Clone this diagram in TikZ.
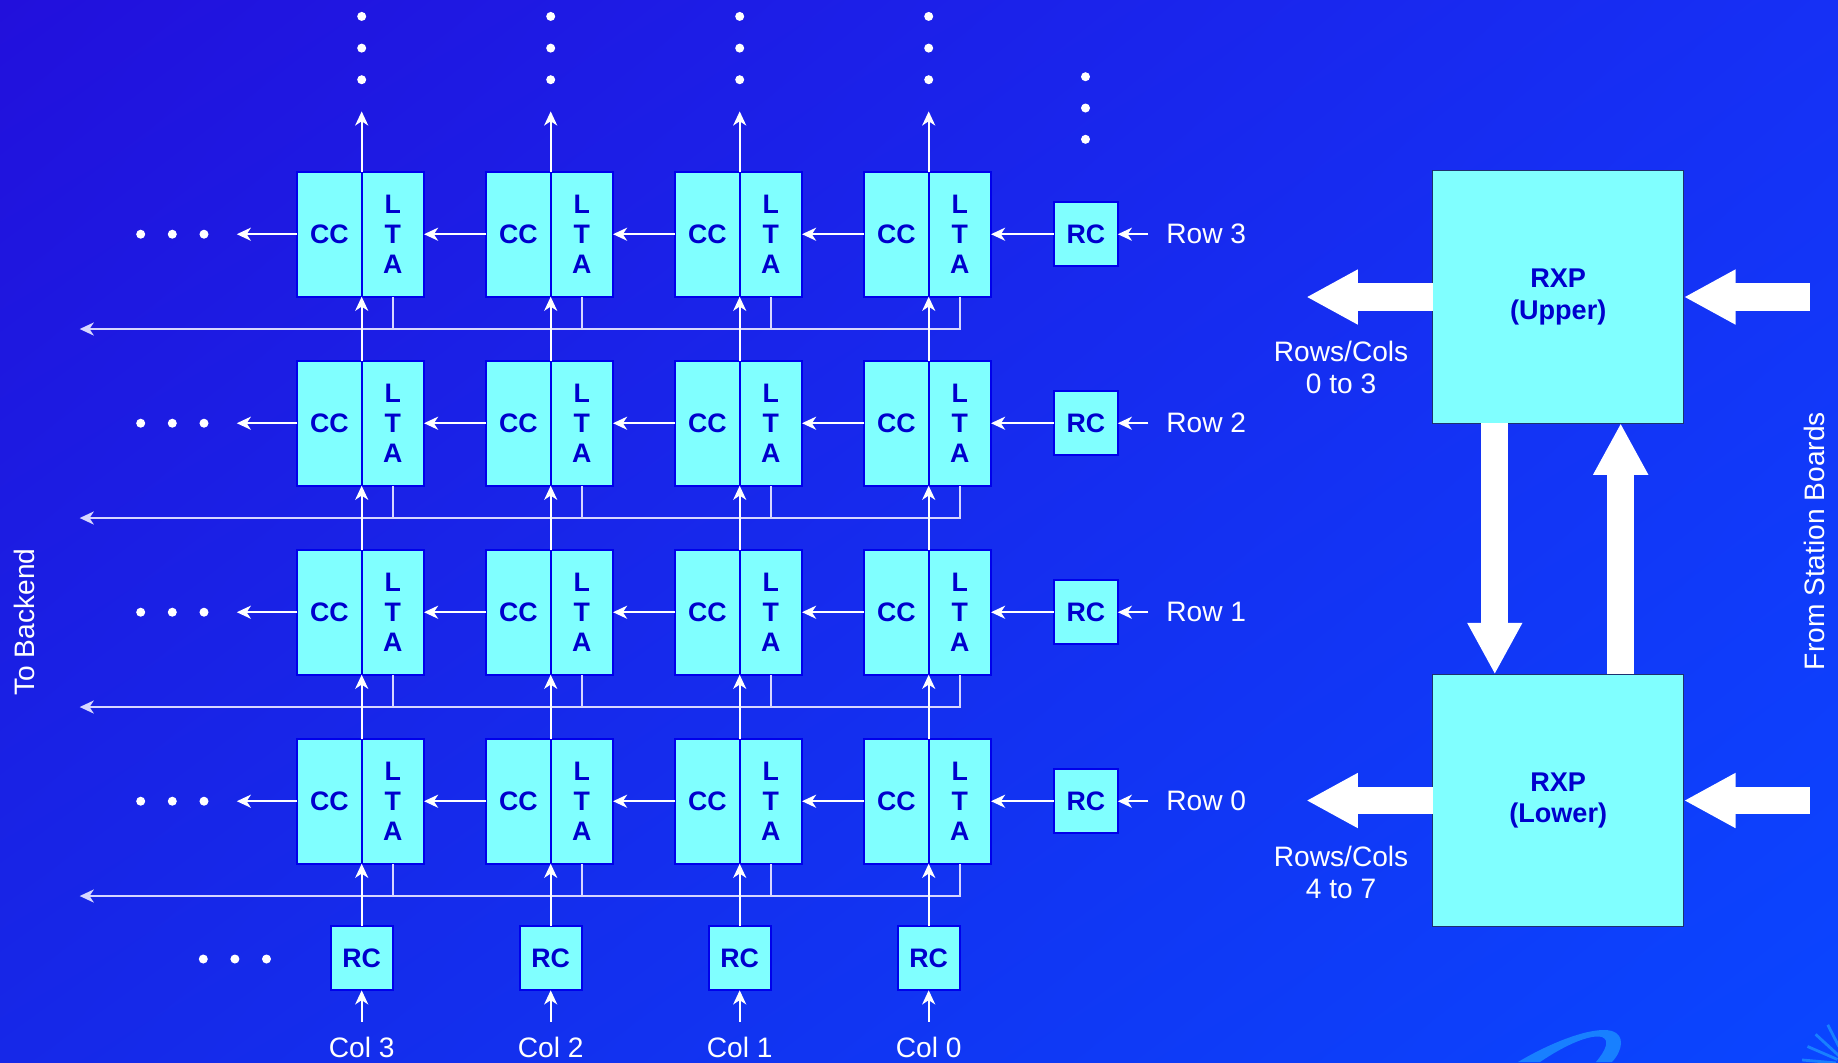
\documentclass[tikz,border=0pt]{standalone}
\usepackage{fontspec}
\setmainfont{Liberation Sans}
\usetikzlibrary{arrows.meta,calc,shadings}
\definecolor{cellfill}{RGB}{128,255,255}
\definecolor{cellline}{RGB}{0,0,235}
\definecolor{celltext}{RGB}{0,0,205}
\definecolor{busline}{RGB}{215,215,255}
\definecolor{bgA}{RGB}{34,16,220}
\definecolor{bgB}{RGB}{22,48,245}
\definecolor{bgC}{RGB}{22,40,232}
\definecolor{bgD}{RGB}{10,70,255}
\definecolor{swooshc}{RGB}{24,128,255}
\definecolor{rxpline}{RGB}{30,50,110}
\begin{document}
\begin{tikzpicture}[x=0.01cm,y=-0.01cm,
  cell/.style={rectangle, fill=cellfill, draw=cellline, line width=0.6pt, inner sep=0pt, outer sep=0pt, text=celltext, font=\fontsize{7.6}{8.5}\selectfont\bfseries, minimum height=1.25cm},
  ccbox/.style={cell, minimum width=0.644cm},
  ltabox/.style={cell, minimum width=0.623cm, align=center},
  rcbox/.style={cell, minimum width=0.64cm, minimum height=0.64cm},
  crcbox/.style={cell, minimum width=0.62cm, minimum height=0.64cm},
  rxpbox/.style={rectangle, fill=cellfill, draw=rxpline, line width=0.3pt, inner sep=0pt, outer sep=0pt, minimum width=2.512cm, minimum height=2.52cm, text=celltext, align=center, font=\fontsize{7.7}{9}\selectfont\bfseries},
  arr/.style={draw=white, line width=0.6pt, -{Stealth[length=4pt,width=3.7pt,inset=1.2pt]}},
  bus/.style={draw=busline, line width=0.6pt},
  busarr/.style={bus, -{Stealth[length=4pt,width=3.7pt,inset=1.2pt]}},
  fat/.style={draw=white, line width=7.7pt, -{Triangle[length=14.7pt,width=14.6pt]}},
  lbl/.style={text=white, font=\fontsize{8}{9}\selectfont, inner sep=0pt},
]
% background
\useasboundingbox (0,0) rectangle (1838,1062);
\clip (0,0) rectangle (1838,1062);
\shade[upper left=bgA, upper right=bgB, lower left=bgC, lower right=bgD] (0,0) rectangle (1838,1062);
% decorative swoosh and starburst
\fill[swooshc] (1518,1062) .. controls (1555,1040) and (1595,1026) .. (1612,1031)
  .. controls (1625,1035) and (1623,1050) .. (1612,1062) -- (1596,1062)
  .. controls (1606,1050) and (1610,1040) .. (1602,1037)
  .. controls (1590,1034) and (1565,1045) .. (1540,1062) -- cycle;
\foreach \ex/\ey in {-34/-3,-30/-13,-24/-22,-15/-29}
  \draw[swooshc, line width=0.8pt] (1848,1064) ++(0.35*\ex,0.35*\ey) -- ++(\ex,\ey);

% cells
\foreach \p in {0,1,2,3}{
  \foreach \q in {0,1,2,3}{
    \pgfmathsetmacro{\dx}{361.7+189*\p}
    \pgfmathsetmacro{\cy}{234.2+189*\q}
    \node[ccbox, anchor=east] (cc\p\q) at (\dx,\cy) {CC};
    \node[ltabox, anchor=west] (lta\p\q) at (\dx,\cy) {L\\T\\A};
  }
}

% buses
\foreach \q in {0,1,2,3}{
  \pgfmathsetmacro{\by}{329+189*\q}
  \coordinate (bend\q) at (79.7,\by);
  \draw[busarr] (lta3\q.south) |- (bend\q);
  \foreach \p in {0,1,2}
    \draw[bus] (lta\p\q.south) -- (lta\p\q.south |- bend\q);
}

% rows
\foreach \q/\r in {0/3,1/2,2/1,3/0}{
  \pgfmathsetmacro{\cy}{234.2+189*\q}
  \node[rcbox] (rrc\q) at (1085.8,\cy) {RC};
  \coordinate (rin\q) at (1148.3,\cy);
  \node[lbl, anchor=west] (rowlbl\q) at (1165.7,\cy) {Row \r};
  \draw[arr] (rin\q) -- (rrc\q);
  \draw[arr] (rrc\q) -- (lta3\q);
  \coordinate (rout\q) at (236.8,\cy);
  \draw[arr] (cc0\q) -- (rout\q);
  \foreach \p/\pp in {0/1,1/2,2/3}
    \draw[arr] (cc\pp\q) -- (lta\p\q);
  \foreach \xx in {140.7,172.3,204}
    \fill[white] (\xx,\cy) circle[radius=0.045cm];
}

% columns
\foreach \p/\c in {0/3,1/2,2/1,3/0}{
  \pgfmathsetmacro{\dx}{361.7+189*\p}
  \node[crcbox] (crc\p) at (\dx,958.3) {RC};
  \coordinate (cin\p) at (\dx,1021.7);
  \node[lbl] (collbl\p) at (\dx,1047.5) {Col \c};
  \draw[arr] (cin\p) -- (crc\p);
  \draw[arr] (crc\p) -- (cc\p3.south east);
  \draw[arr] (cc\p3.north east) -- (cc\p2.south east);
  \draw[arr] (cc\p2.north east) -- (cc\p1.south east);
  \draw[arr] (cc\p1.north east) -- (cc\p0.south east);
  \coordinate (ctop\p) at (\dx,111.4);
  \draw[arr] (cc\p0.north east) -- (ctop\p);
  \foreach \yy in {16.4,48.1,79.7}
    \fill[white] (\dx,\yy) circle[radius=0.045cm];
}
\foreach \yy in {76.7,108,139.3}
  \fill[white] (1085.5,\yy) circle[radius=0.045cm];
\foreach \xx in {203.3,234.9,266.5}
  \fill[white] (\xx,959) circle[radius=0.045cm];

% side labels
\node[lbl, rotate=90] (tobk) at (24,622) {To Backend};
\node[lbl, rotate=90] (fsb) at (1814.3,541) {From Station Boards};

% RXP boxes
\node[rxpbox] (upper) at (1558.2,297) {RXP\\(Upper)};
\node[rxpbox] (lower) at (1558.2,800.5) {RXP\\(Lower)};
\coordinate (uout) at (1306.2,297);
\coordinate (uin) at (1809.8,297);
\coordinate (lout) at (1306.2,800.5);
\coordinate (lin) at (1809.8,800.5);
\draw[fat] (upper.west) -- (uout);
\draw[fat] (uin) -- (upper.east);
\draw[fat] (lower.west) -- (lout);
\draw[fat] (lin) -- (lower.east);
\draw[fat] ($(upper.south)+(-63.4,0)$) -- ($(lower.north)+(-63.4,0)$);
\draw[fat] ($(lower.north)+(62.5,0)$) -- ($(upper.south)+(62.5,0)$);
\node[lbl, align=center] (rcu) at (1341.1,367.5) {Rows/Cols\\0 to 3};
\node[lbl, align=center] (rcl) at (1341.1,872.7) {Rows/Cols\\4 to 7};
\end{tikzpicture}
\end{document}
